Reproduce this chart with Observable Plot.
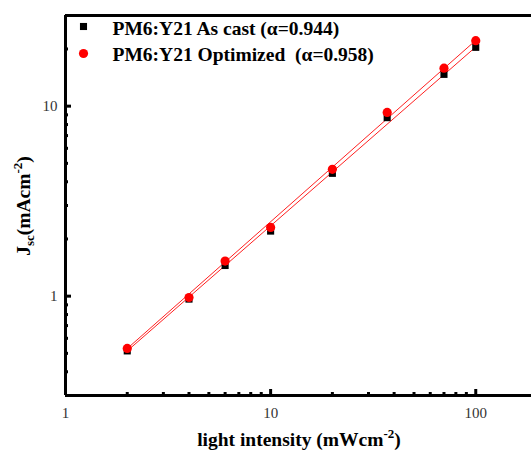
<!DOCTYPE html>
<html>
<head>
<meta charset="utf-8">
<script src="https://cdn.jsdelivr.net/npm/d3@7"></script>
<script src="https://cdn.jsdelivr.net/npm/@observablehq/plot@0.6"></script>
<style>
  html, body { margin: 0; padding: 0; background: #fff; }
  svg { display: block; }
</style>
</head>
<body>
<div id="chart"></div>
<script>
// Data
const intensity = [2, 4, 6, 10, 20, 37, 70, 100];
const jscAsCast = [0.515, 0.965, 1.45, 2.2, 4.43, 8.7, 14.7, 20.4];
const jscOptimized = [0.531, 0.984, 1.53, 2.3, 4.65, 9.27, 15.85, 22.1];
const fitX = [2, 100];
const fitAsCast = [0.515, 20.5];
const fitOptimized = [0.53, 22.2];
const seriesNames = ["PM6:Y21 As cast (\u03B1=0.944)", "PM6:Y21 Optimized  (\u03B1=0.958)"];
const xTickLabels = [1, 10, 100];
const xMajor = [10, 100];
const xMinor = [2, 3, 4, 5, 6, 7, 8, 9, 20, 30, 40, 50, 60, 70, 80, 90];
const yTickLabels = [1, 10];
const yMinor = [0.3, 0.4, 0.5, 0.6, 0.7, 0.8, 0.9, 2, 3, 4, 5, 6, 7, 8, 9, 20];

const castPts = intensity.map((x, i) => ({x, y: jscAsCast[i]}));
const optPts = intensity.map((x, i) => ({x, y: jscOptimized[i]}));
const fitCast = fitX.map((x, i) => ({x, y: fitAsCast[i]}));
const fitOpt = fitX.map((x, i) => ({x, y: fitOptimized[i]}));

const W = 531, H = 453;
const chart = Plot.plot({
  width: W,
  height: H,
  marginLeft: 65,
  marginRight: -6,
  marginTop: 15,
  marginBottom: 58,
  style: {fontFamily: "'Liberation Serif', 'Times New Roman', serif", background: "#fff"},
  x: {type: "log", domain: [1, 200]},
  y: {type: "log", domain: [0.3, 30]},
  marks: [
    // fit lines
    Plot.line(fitCast, {x: "x", y: "y", stroke: "#ff2020", strokeWidth: 1}),
    Plot.line(fitOpt, {x: "x", y: "y", stroke: "#ff2020", strokeWidth: 1}),
    // data
    Plot.dot(castPts, {x: "x", y: "y", symbol: "square", r: 4, fill: "#000", stroke: null}),
    Plot.dot(optPts, {x: "x", y: "y", symbol: "circle", r: 4.6, fill: "#ff0000", stroke: null}),
    // frame
    Plot.ruleY([0.3], {stroke: "#000", strokeWidth: 3}),
    Plot.ruleY([30], {stroke: "#000", strokeWidth: 3}),
    Plot.ruleX([1], {stroke: "#000", strokeWidth: 3}),
    // x axis
    Plot.axisX(xTickLabels, {anchor: "bottom", tickSize: 0, tickPadding: 12, fontSize: 15, fill: "#333", tickFormat: d => String(d), label: null}),
    Plot.axisX(xMajor, {anchor: "bottom", tickSize: -6, strokeWidth: 3, tickFormat: () => "", label: null}),
    Plot.axisX(xMinor, {anchor: "bottom", tickSize: -3, strokeWidth: 3, tickFormat: () => "", label: null}),
    // y axis
    Plot.axisY(yTickLabels, {anchor: "left", tickSize: 0, tickPadding: 8, fontSize: 15, fill: "#333", tickFormat: d => String(d), label: null}),
    Plot.axisY(yTickLabels, {anchor: "left", tickSize: -6, strokeWidth: 3, tickFormat: () => "", label: null}),
    Plot.axisY(yMinor, {anchor: "left", tickSize: -3, strokeWidth: 3, tickFormat: () => "", label: null}),
    // legend
    Plot.dot([seriesNames[0]], {frameAnchor: "top-left", dx: 18, dy: 11, symbol: "square", r: 4, fill: "#000"}),
    Plot.dot([seriesNames[1]], {frameAnchor: "top-left", dx: 18, dy: 38, symbol: "circle", r: 4.6, fill: "#ff0000"}),
    Plot.text([seriesNames[0]], {frameAnchor: "top-left", text: d => d, dx: 47, dy: 13, lineAnchor: "middle", textAnchor: "start", fontSize: 19.5, fontWeight: "bold", fill: "#000"}),
    Plot.text([seriesNames[1]], {frameAnchor: "top-left", text: d => d, dx: 47, dy: 39.5, lineAnchor: "middle", textAnchor: "start", fontSize: 19.5, fontWeight: "bold", fill: "#000"})
  ]
});

// axis titles with sub/superscripts
const svg = d3.select(chart);
const xl = svg.append("text")
  .attr("x", 299).attr("y", 446)
  .attr("text-anchor", "middle")
  .attr("font-size", 19.5).attr("font-weight", "bold").attr("fill", "#000");
xl.append("tspan").text("light intensity (mWcm");
xl.append("tspan").attr("font-size", 13).attr("dy", -8).text("-2");
xl.append("tspan").attr("dy", 8).text(")");

const yl = svg.append("text")
  .attr("transform", "translate(30,206) rotate(-90)")
  .attr("text-anchor", "middle")
  .attr("font-size", 19.5).attr("font-weight", "bold").attr("fill", "#000");
yl.append("tspan").text("J");
yl.append("tspan").attr("font-size", 13).attr("dy", 4).text("sc");
yl.append("tspan").attr("dy", -4).text("(mAcm");
yl.append("tspan").attr("font-size", 13).attr("dy", -8).text("-2");
yl.append("tspan").attr("dy", 8).text(")");

document.getElementById("chart").appendChild(chart);
</script>
</body>
</html>
